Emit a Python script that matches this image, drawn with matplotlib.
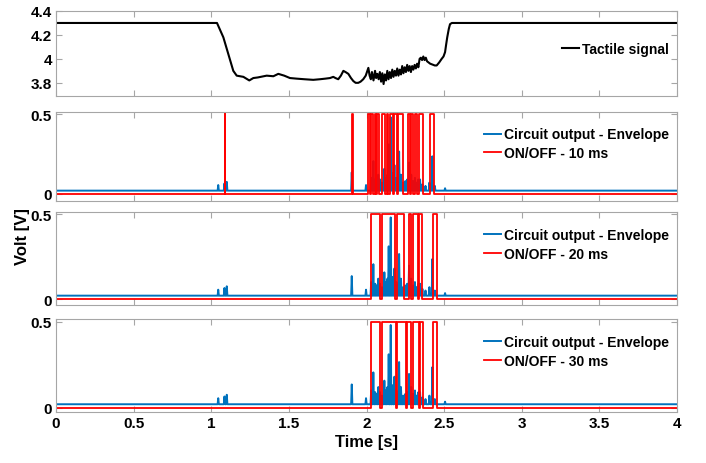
import numpy as np
import matplotlib
matplotlib.use("Agg")
import matplotlib.pyplot as plt

plt.rcParams['font.family'] = ['Liberation Sans', 'DejaVu Sans']
plt.rcParams['font.weight'] = 'bold'

# ---------------- data ----------------
tactile_t = [0.0, 1.037, 1.078, 1.110, 1.142, 1.164, 1.207, 1.245, 1.271, 1.30, 1.357, 1.40, 1.432,
             1.47, 1.507, 1.55, 1.60, 1.657, 1.70, 1.735, 1.765, 1.786, 1.80, 1.818, 1.835, 1.851,
             1.865, 1.883, 1.90, 1.915, 1.930, 1.947, 1.962, 1.979, 1.995, 2.012, 2.020, 2.028,
             2.035, 2.045, 2.055, 2.062, 2.070, 2.078, 2.086, 2.094, 2.102, 2.110, 2.118, 2.126,
             2.134, 2.142, 2.150, 2.158, 2.166, 2.174, 2.182, 2.190, 2.198, 2.206, 2.214, 2.222,
             2.230, 2.238, 2.246, 2.254, 2.262, 2.270, 2.278, 2.286, 2.294, 2.302, 2.310, 2.318,
             2.326, 2.334, 2.342, 2.350, 2.358, 2.366, 2.374, 2.382, 2.390, 2.400, 2.410, 2.420,
             2.430, 2.440, 2.452, 2.468, 2.484, 2.496, 2.506, 2.513, 2.520, 2.530, 2.538, 2.55, 4.0]
tactile_v = [4.30, 4.30, 4.18, 4.04, 3.90, 3.86, 3.85, 3.82, 3.84, 3.845, 3.86, 3.855, 3.875,
             3.86, 3.84, 3.835, 3.83, 3.825, 3.83, 3.835, 3.84, 3.85, 3.84, 3.83, 3.86, 3.90,
             3.89, 3.875, 3.84, 3.815, 3.80, 3.80, 3.81, 3.83, 3.86, 3.925, 3.86, 3.83,
             3.89, 3.82, 3.90, 3.84, 3.875, 3.83, 3.89, 3.81, 3.88, 3.79, 3.87, 3.82,
             3.90, 3.83, 3.89, 3.84, 3.91, 3.85, 3.90, 3.86, 3.92, 3.86, 3.91, 3.87,
             3.94, 3.88, 3.93, 3.89, 3.95, 3.90, 3.94, 3.89, 3.94, 3.91, 3.95, 3.92,
             3.96, 3.93, 4.00, 4.01, 3.99, 4.02, 3.99, 4.01, 3.98, 3.97, 3.96, 3.955,
             3.95, 3.945, 3.945, 3.97, 4.00, 4.02, 4.056, 4.12, 4.18, 4.25, 4.29, 4.30, 4.30]

env_base = 0.02
env_spike_t = [1.045, 1.085, 1.100, 1.905, 1.997, 2.030, 2.044, 2.056, 2.066, 2.076, 2.087, 2.100,
               2.115, 2.125, 2.135, 2.143, 2.156, 2.168, 2.180, 2.192, 2.200, 2.210, 2.222,
               2.236, 2.250, 2.262, 2.274, 2.288, 2.300, 2.312, 2.322, 2.334, 2.345, 2.360,
               2.380, 2.405, 2.424, 2.440, 2.506]
env_spike_v = [0.055, 0.065, 0.075, 0.135, 0.055, 0.10, 0.205, 0.09, 0.08, 0.12, 0.09, 0.07,
               0.157, 0.10, 0.12, 0.31, 0.48, 0.13, 0.18, 0.10, 0.08, 0.265, 0.12,
               0.07, 0.08, 0.09, 0.196, 0.12, 0.08, 0.10, 0.07, 0.09, 0.09, 0.06,
               0.05, 0.07, 0.235, 0.05, 0.035]

pulses_10 = [(1.087, 1.090), (1.907, 1.911), (2.012, 2.020), (2.030, 2.044), (2.055, 2.062),
             (2.070, 2.083), (2.098, 2.119), (2.130, 2.141), (2.151, 2.169), (2.179, 2.194),
             (2.205, 2.233), (2.269, 2.280), (2.287, 2.302), (2.312, 2.327), (2.338, 2.362),
             (2.409, 2.432)]
pulses_20 = [(2.027, 2.087), (2.102, 2.184), (2.194, 2.242), (2.272, 2.287), (2.298, 2.334),
             (2.340, 2.360), (2.430, 2.452)]
pulses_30 = [(2.027, 2.087), (2.098, 2.188), (2.194, 2.254), (2.263, 2.287), (2.298, 2.340),
             (2.347, 2.366), (2.430, 2.456)]
pulse_level = 0.5

x_ticks = [0, 0.5, 1, 1.5, 2, 2.5, 3, 3.5, 4]
x_ticklabels = ['0', '0.5', '1', '1.5', '2', '2.5', '3', '3.5', '4']
top_yticks = [3.8, 4.0, 4.2, 4.4]
top_yticklabels = ['3.8', '4', '4.2', '4.4']
low_yticks = [0, 0.5]
low_yticklabels = ['0', '0.5']
labels_onoff = ['ON/OFF - 10 ms', 'ON/OFF - 20 ms', 'ON/OFF - 30 ms']

# ---------------- build series ----------------
def envelope():
    t = [0.0]
    v = [env_base]
    w = 0.004
    for st, sv in zip(env_spike_t, env_spike_v):
        t += [st - w, st, st + w]
        v += [env_base, sv, env_base]
    t.append(4.0)
    v.append(env_base)
    return t, v

def pulse_train(pulses):
    t = [0.0]
    v = [0.0]
    for a, b in pulses:
        t += [a, a, b, b]
        v += [0.0, pulse_level, pulse_level, 0.0]
    t.append(4.0)
    v.append(0.0)
    return t, v

# ---------------- figure ----------------
W, H = 706, 464
fig = plt.figure(figsize=(W / 100, H / 100), dpi=100)

def ax_at(top, bottom, left=56, right=677):
    return fig.add_axes([left / W, 1 - bottom / H, (right - left) / W, (bottom - top) / H])

grey = '#a6a6a6'
blue = '#0072BD'
red = '#FF0000'

def style(ax, show_x):
    for s in ax.spines.values():
        s.set_color(grey)
        s.set_linewidth(0.8)
    ax.set_xlim(0, 4)
    ax.set_xticks(x_ticks)
    if show_x:
        ax.set_xticklabels(x_ticklabels)
    else:
        ax.set_xticklabels([])
    ax.tick_params(direction='in', top=True, right=True, color=grey, length=4,
                   labelsize=11, labelcolor='black', pad=3)
    for lab in ax.get_xticklabels() + ax.get_yticklabels():
        lab.set_fontweight('bold')

leg_prop = {'weight': 'bold', 'size': 10}

ax1 = ax_at(12, 97)
ax1.plot(tactile_t, tactile_v, color='black', lw=1.5, label='Tactile signal')
ax1.set_ylim(3.69, 4.4)
ax1.set_yticks(top_yticks)
ax1.set_yticklabels(top_yticklabels)
style(ax1, False)
ax1.legend(loc='center right', frameon=False, handlelength=1.2, handletextpad=0.2,
           prop=leg_prop, bbox_to_anchor=(1.0, 0.55), borderaxespad=0.2)

et, ev = envelope()
panels = [(113, 202, pulses_10, (-0.045, 0.513)),
          (213, 306, pulses_20, (-0.035, 0.512)),
          (320, 413, pulses_30, (-0.025, 0.515))]
axes = []
for i, (top, bot, pulses, ylim) in enumerate(panels):
    ax = ax_at(top, bot)
    ax.plot(et, ev, color=blue, lw=1.4, label='Circuit output - Envelope')
    pt, pv = pulse_train(pulses)
    ax.plot(pt, pv, color=red, lw=1.3, label=labels_onoff[i])
    ax.set_ylim(*ylim)
    ax.set_yticks(low_yticks)
    ax.set_yticklabels(low_yticklabels)
    style(ax, i == 2)
    ax.legend(loc='upper right', frameon=False, handlelength=1.2, handletextpad=0.2,
              prop=leg_prop, bbox_to_anchor=(1.0, 0.92), borderaxespad=0.2,
              labelspacing=0.35)
    axes.append(ax)

axes[-1].set_xlabel('Time [s]', fontsize=12, fontweight='bold', labelpad=3)
fig.text(22 / W, 1 - 237 / H, 'Volt [V]', rotation=90, ha='center', va='center',
         fontsize=12, fontweight='bold')

fig.savefig('out.png', dpi=100)
